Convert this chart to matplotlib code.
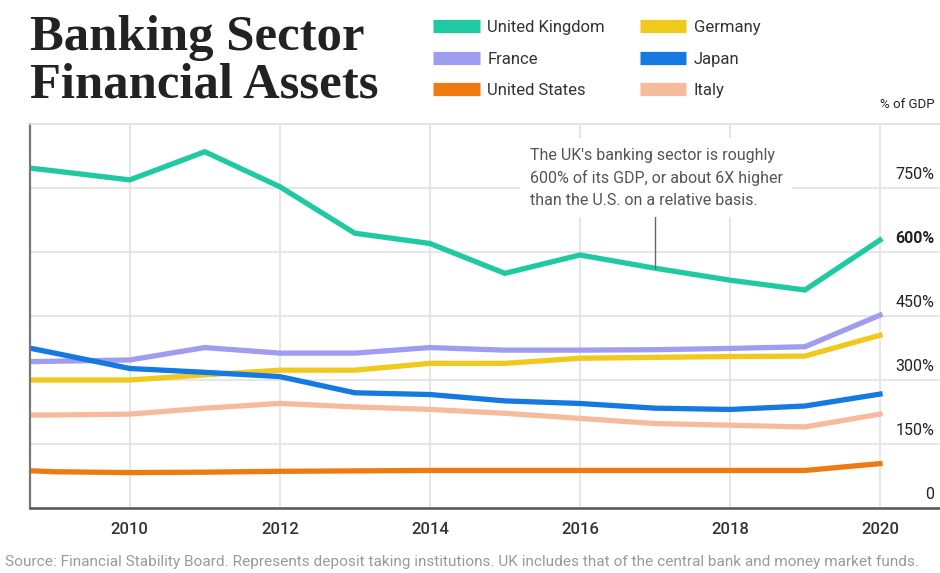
import matplotlib.pyplot as plt
from matplotlib.lines import Line2D
from matplotlib.transforms import blended_transform_factory

plt.rcParams["font.family"] = ["Roboto", "DejaVu Sans"]

# data (% of GDP), 2008 point only sets the clipped start
years = list(range(2008, 2021))
uk = [810, 790, 769, 835, 753, 644, 620, 550, 593, 562, 534, 511, 628]
france = [341, 344, 347, 376, 363, 363, 376, 370, 370, 371, 374, 378, 452]
us = [92, 85, 83, 84, 86, 87, 88, 88, 88, 88, 88, 88, 104]
germany = [300, 300, 300, 312, 323, 323, 339, 339, 351, 353, 355, 356, 405]
japan = [398, 363, 327, 318, 308, 270, 266, 251, 245, 234, 231, 239, 267]
italy = [217, 218, 220, 234, 245, 237, 231, 222, 210, 198, 194, 190, 220]

series = [
    ("United Kingdom", uk, "#1fc9a2"),
    ("France", france, "#a09cf0"),
    ("United States", us, "#ef7a12"),
    ("Germany", germany, "#f1c81c"),
    ("Japan", japan, "#1479e0"),
    ("Italy", italy, "#f6bb9c"),
]

y_ticks = [0, 150, 300, 450, 600, 750]
y_labels = ["0", "150%", "300%", "450%", "600%", "750%"]
x_ticks = [2010, 2012, 2014, 2016, 2018, 2020]

fig = plt.figure(figsize=(9.4, 5.73), dpi=100)
ax = fig.add_axes([30 / 940, 1 - 508 / 573, 1 - 30 / 940, 384 / 573])

# draw order: US at the back, UK on top
for name, vals, col in [series[2], series[5], series[3], series[1], series[4], series[0]]:
    ax.plot(years, vals, color=col, lw=3.8, solid_joinstyle="miter")

ax.set_xlim(2008.67, 2020.8)
ax.set_ylim(0, 900)
ax.set_xticks(x_ticks)
ax.set_xticklabels([str(x) for x in x_ticks], fontsize=12, color="#333333", fontweight="medium")
ax.set_yticks(y_ticks + [900])
ax.set_yticklabels([])
ax.tick_params(axis="both", length=0)
ax.tick_params(axis="x", pad=10)
ax.grid(True, color="#e2e2e2", lw=1.2)
ax.set_axisbelow(True)

ax.spines["right"].set_visible(False)
ax.spines["top"].set_color("#e2e2e2")
ax.spines["top"].set_linewidth(1.2)
ax.spines["left"].set_color("#777777")
ax.spines["left"].set_linewidth(1.6)
ax.spines["bottom"].set_color("#555555")
ax.spines["bottom"].set_linewidth(1.8)

trans = blended_transform_factory(ax.transAxes, ax.transData)
for v, lab in zip(y_ticks, y_labels):
    ax.annotate(lab, xy=(0.994, v), xycoords=trans, xytext=(0, 4), textcoords="offset points",
                ha="right", va="bottom", fontsize=11.5, color="#222222",
                fontweight="bold" if v == 600 else "normal")

# annotation
ax.text(2015.33, 844, "The UK's banking sector is roughly\n600% of its GDP, or about 6X higher\nthan the U.S. on a relative basis.",
        ha="left", va="top", fontsize=11.5, color="#555555", linespacing=1.55,
        bbox=dict(facecolor="white", edgecolor="none", pad=7), zorder=5)
ax.plot([2017, 2017], [562, 682], color="#666666", lw=1, zorder=4)

# title
fig.text(30 / 940, 1 - 50 / 573, "Banking Sector", family="Liberation Serif", fontweight="bold",
         fontsize=36.5, color="#222222", va="baseline")
fig.text(30 / 940, 1 - 98 / 573, "Financial Assets", family="Liberation Serif", fontweight="bold",
         fontsize=36.5, color="#222222", va="baseline")

# legend
handles = [Line2D([0], [0], color=c, lw=9.5, solid_capstyle="butt") for _, _, c in series]
labels = [n for n, _, _ in series]
fig.legend(handles, labels, loc="upper left", bbox_to_anchor=(418 / 940, 1 - 5 / 573), ncol=2,
           frameon=False, fontsize=12, handlelength=2.8, handletextpad=0.45, columnspacing=2.1,
           labelspacing=1.0, labelcolor="#333333")

fig.text(935 / 940, 1 - 105 / 573, "% of GDP", ha="right", va="center", fontsize=9.5, color="#222222")

fig.text(5 / 940, 1 - 562 / 573,
         "Source: Financial Stability Board. Represents deposit taking institutions. UK includes that of the central bank and money market funds.",
         ha="left", va="center", fontsize=11.1, color="#9a9a9a")

fig.savefig("out.png", dpi=100)
